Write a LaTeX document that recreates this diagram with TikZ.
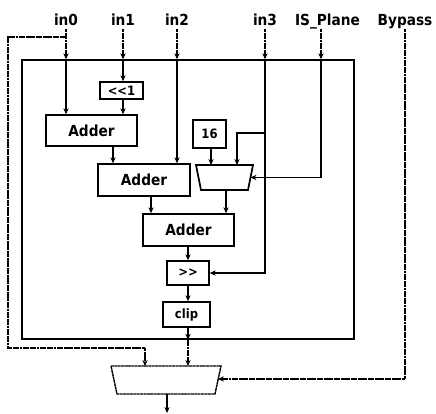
\documentclass[tikz,border=0pt]{standalone}
\usepackage{fontspec}
\setmainfont{DejaVu Sans Condensed}
\usetikzlibrary{
	arrows.meta,
	positioning,
	calc
}

\begin{document}
\begin{tikzpicture}[
  x=0.03cm, y=-0.03cm,
  bloque/.style={rectangle, draw, line width=1.3pt, inner sep=0pt,
    font=\bfseries\fontsize{13}{15}\selectfont},
  chico/.style={bloque, font=\bfseries\fontsize{11}{13}\selectfont},
  etiqueta/.style={inner sep=1pt, anchor=base, text depth=0.25em,
    font=\bfseries\fontsize{13}{15}\selectfont},
  flecha/.style={-{Stealth[length=1.8mm, width=1.6mm]}, line width=1.3pt},
  linea/.style={line width=1.5pt},
  ext/.style={line width=1.2pt, dash pattern=on 2.5pt off 0.4pt}
]
\useasboundingbox (0,0) rectangle (436,414);

% entradas
\node[etiqueta] (in0) at (66,25) {in0};
\node[etiqueta] (in1) at (123,25) {in1};
\node[etiqueta] (in2) at (177,25) {in2};
\node[etiqueta] (in3) at (265,25) {in3};
\node[etiqueta] (isp) at (327.5,25) {IS\_Plane};
\node[etiqueta] (byp) at (405,25) {Bypass};

% bloque principal
\node[draw, line width=1.3pt, minimum width=9.96cm, minimum height=8.37cm]
  (nucleo) at (188,199.5) {};

\node[chico, minimum width=1.29cm, minimum height=0.51cm] (shl) at (121.5,90.5) {<{}<1};
\node[bloque, minimum width=2.73cm, minimum height=0.93cm] (add1) at (91.5,130.5) {Adder};
\node[bloque, minimum width=2.76cm, minimum height=0.96cm] (add2) at (144,180) {Adder};
\node[bloque, minimum width=2.73cm, minimum height=0.96cm] (add3) at (188.5,230) {Adder};
\node[chico, minimum width=0.99cm, minimum height=0.84cm] (c16) at (209.5,134) {16};
\node[chico, minimum width=1.26cm, minimum height=0.72cm] (shr) at (188,273) {>{}>};
\node[chico, minimum width=1.41cm, minimum height=0.75cm] (clip) at (186.5,314.5) {clip};

% multiplexores
\draw[linea] (196,165) -- (253,165) -- (248,190) -- (201,190) -- cycle;
\coordinate (mux1n) at (224.5,165);
\coordinate (mux1e) at (250.5,177.5);
\coordinate (mux1s) at (226,190);
\draw[ext] (111,366) -- (221,366) -- (215,394) -- (117,394) -- cycle;
\coordinate (mux2n) at (166,366);
\coordinate (mux2e) at (218,379);
\coordinate (mux2s) at (167,394);
\coordinate (sal) at (167,413);

% in0
\draw[ext, flecha] (in0.south) -- (in0 |- nucleo.north);
\draw[flecha] (in0 |- nucleo.north) -- (in0 |- add1.north);
\coordinate (t0) at (66,37);
\draw[ext, flecha] (t0) -- (8,37) -- (8,348) -- (145,348) -- (145,0 |- mux2n);

% in1
\draw[ext, flecha] (in1.south) -- (in1 |- nucleo.north);
\draw[flecha] (in1 |- nucleo.north) -- (in1 |- shl.north);
\draw[flecha] (in1 |- shl.south) -- (in1 |- add1.north);

% in2
\draw[ext, flecha] (in2.south) -- (in2 |- nucleo.north);
\draw[flecha] (in2 |- nucleo.north) -- (in2 |- add2.north);

% in3
\draw[ext, flecha] (in3.south) -- (in3 |- nucleo.north);
\draw[flecha] (in3 |- nucleo.north) -- (in3 |- shr.east) -- (shr.east);
\draw[flecha] (265,133) -- (237,133) -- (237,0 |- mux1n);

% IS_Plane
\coordinate (ispx) at (321,0);
\draw[ext, flecha] (ispx |- isp.south) -- (ispx |- nucleo.north);
\draw[flecha] (ispx |- nucleo.north) -- (ispx |- mux1e) -- (mux1e);

% Bypass
\draw[ext, flecha] (byp.south) -- (byp.south |- mux2e) -- (mux2e);

% camino de datos
\draw[flecha] ([xshift=0.645cm]add1.south) -- ([xshift=0.645cm]add1.south |- add2.north);
\draw[flecha] ([xshift=0.21cm]add2.south) -- ([xshift=0.21cm]add2.south |- add3.north);
\draw[flecha] ([xshift=0.045cm]c16.south) -- ([xshift=0.045cm]c16.south |- mux1n);
\draw[flecha] (mux1s) -- (mux1s |- add3.north);
\draw[flecha] (shr |- add3.south) -- (shr.north);
\draw[flecha] (shr.south) -- (shr |- clip.north);
\draw[flecha] (shr |- clip.south) -- (shr |- nucleo.south);
\draw[ext, flecha] (shr |- nucleo.south) -- (shr |- mux2n);
\draw[flecha] (mux2s) -- (sal);
\end{tikzpicture}
\end{document}
